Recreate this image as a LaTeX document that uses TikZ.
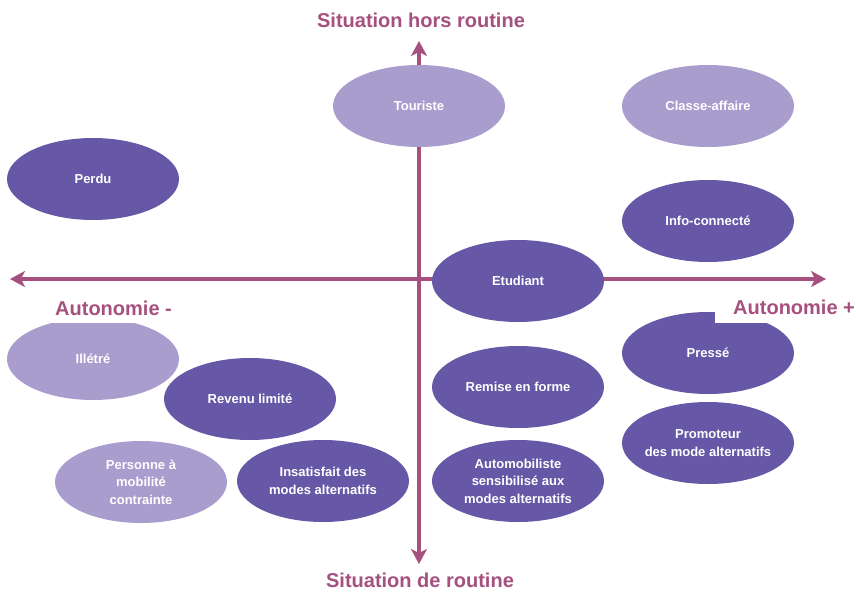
\documentclass[tikz,border=0pt]{standalone}
\usepackage{fontspec}
\setmainfont{Liberation Sans}
\usetikzlibrary{shapes.geometric,arrows.meta}
\definecolor{darkp}{HTML}{6658A6}
\definecolor{lightp}{HTML}{A99DCE}
\definecolor{axisc}{HTML}{A5507F}
\tikzset{
  blob/.style={ellipse, minimum width=172pt, minimum height=82pt, inner sep=0pt,
    text=white, font=\bfseries\fontsize{13}{17.5}\selectfont, align=center},
  darkblob/.style={blob, fill=darkp},
  lightblob/.style={blob, fill=lightp},
  axisline/.style={axisc, line width=4.5pt, -{Stealth[length=15pt,width=16pt,inset=4pt]}},
  axislabel/.style={text=axisc, font=\bfseries\fontsize{20}{22}\selectfont, fill=white, inner sep=3pt}
}
\begin{document}
\begin{tikzpicture}[x=1pt,y=-1pt]
\useasboundingbox (0,0) rectangle (856,594);
\coordinate (c) at (419,279);
\coordinate (top) at (419,41);
\coordinate (bot) at (419,564);
\coordinate (lft) at (10,279);
\coordinate (rgt) at (826,279);
\draw[axisline] (c) -- (top);
\draw[axisline] (c) -- (bot);
\draw[axisline] (c) -- (lft);
\draw[axisline] (c) -- (rgt);

\node[lightblob] (touriste) at (419,106) {Touriste};
\node[lightblob] (classe) at (708,106) {Classe-affaire};
\node[darkblob] (perdu) at (93,179) {Perdu};
\node[darkblob] (info) at (708,221) {Info-connecté};
\node[darkblob] (etudiant) at (518,281) {Etudiant};
\node[lightblob] (illetre) at (93,359) {Illétré};
\node[darkblob] (revenu) at (250,399) {Revenu limité};
\node[darkblob] (remise) at (518,387) {Remise en forme};
\node[darkblob] (presse) at (708,353) {Pressé};
\node[darkblob, inner xsep=-12pt] (promoteur) at (708,443) {Promoteur\\des mode alternatifs};
\node[lightblob] (personne) at (141,482) {Personne à\\mobilité\\contrainte};
\node[darkblob] (insatisfait) at (323,481) {Insatisfait des\\modes alternatifs};
\node[darkblob] (auto) at (518,481) {Automobiliste\\sensibilisé aux\\modes alternatifs};

\node[axislabel] (hors) at (421,20) {Situation hors routine};
\node[axislabel] (routine) at (420,580) {Situation de routine};
\node[axislabel, anchor=base west, inner xsep=48pt, inner ysep=8pt] (amoins) at (7,315) {Autonomie -};
\node[axislabel, anchor=base west, inner xsep=18pt, inner ysep=9pt] (aplus) at (715,314) {Autonomie +};
\end{tikzpicture}
\end{document}
